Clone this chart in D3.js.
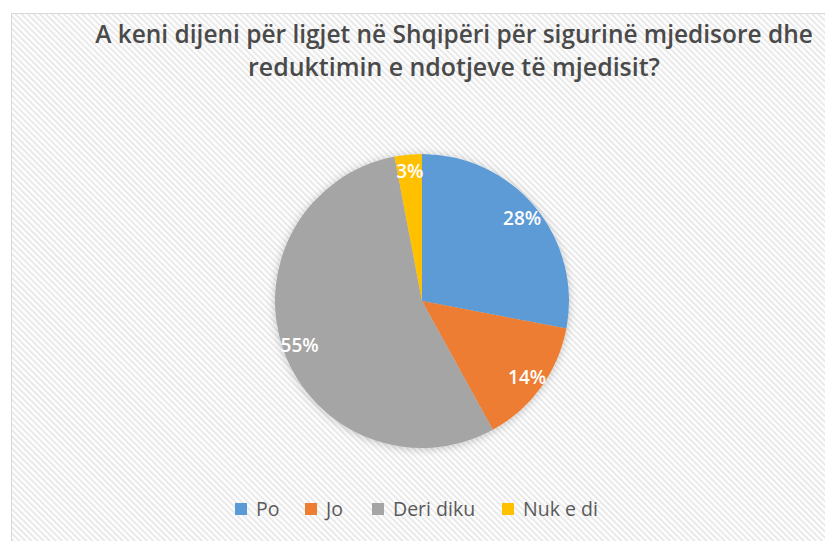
<!DOCTYPE html>
<html>
<head>
<meta charset="utf-8">
<script src="https://cdn.jsdelivr.net/npm/d3@7/dist/d3.min.js"></script>
<style>
  html, body { margin: 0; padding: 0; background: #fff; }
  svg { display: block; }
</style>
</head>
<body>
<div id="chart"></div>
<script>
// chart data
const categories = ["Po", "Jo", "Deri diku", "Nuk e di"];
const values = [28, 14, 55, 3];
const colors = ["#5B9BD5", "#ED7D31", "#A5A5A5", "#FFC000"];
const titleLines = [
  "A keni dijeni për ligjet në Shqipëri për sigurinë mjedisore dhe",
  "reduktimin e ndotjeve të mjedisit?"
];

const width = 825, height = 541;
const cx = 422, cy = 301, radius = 147, labelRadius = 130;

let svg = d3.select("#chart").append("svg")
    .attr("width", width)
    .attr("height", height);

let defs = svg.append("defs");

// diagonal hatching of the chart area
let pattern = defs.append("pattern")
    .attr("id", "hatch")
    .attr("patternUnits", "userSpaceOnUse")
    .attr("width", 4.3)
    .attr("height", 4.3)
    .attr("patternTransform", "rotate(-45)");
pattern.append("rect")
    .attr("width", 4.3).attr("height", 4.3)
    .attr("fill", "#ffffff");
pattern.append("rect")
    .attr("width", 2).attr("height", 4.3)
    .attr("fill", "#e9e9e9");

let shadow = defs.append("filter")
    .attr("id", "pieShadow")
    .attr("x", "-20%").attr("y", "-20%")
    .attr("width", "140%").attr("height", "140%");
shadow.append("feDropShadow")
    .attr("dx", 0).attr("dy", 1)
    .attr("stdDeviation", 4)
    .attr("flood-color", "#000")
    .attr("flood-opacity", 0.22);

svg.append("rect")
    .attr("x", 11.5).attr("y", 13.5)
    .attr("width", width)
    .attr("height", height)
    .attr("fill", "url(#hatch)")
    .attr("stroke", "#d9d9d9")
    .attr("stroke-width", 1);

// title - squeezed horizontally to match the narrow original font
let titleWidths = [718, 412];
let titleCenter = 454;
titleLines.forEach(function(line, i) {
    let t = svg.append("text")
        .attr("x", 0)
        .attr("y", 0)
        .attr("text-anchor", "middle")
        .style("font-family", "'Open Sans', sans-serif")
        .style("font-weight", "600")
        .style("font-size", "25px")
        .attr("fill", "#4a4a4a")
        .text(line);
    let natural = t.node().getComputedTextLength();
    let sx = titleWidths[i] / natural;
    t.attr("transform", "translate(" + titleCenter + "," + (43 + i * 33) + ") scale(" + sx + ",1)");
});

// pie
let pie = d3.pie().sort(null).value(function(d) { return d; });
let arcs = pie(values);
let arc = d3.arc().innerRadius(0).outerRadius(radius);
let labelArc = d3.arc().innerRadius(labelRadius).outerRadius(labelRadius);

let g = svg.append("g")
    .attr("transform", "translate(" + cx + "," + cy + ")");

g.append("g")
    .attr("filter", "url(#pieShadow)")
  .selectAll("path")
    .data(arcs)
  .enter().append("path")
    .attr("d", arc)
    .attr("fill", function(d, i) { return colors[i]; });

g.selectAll(".label")
    .data(arcs)
  .enter().append("text")
    .attr("class", "label")
    .attr("transform", function(d) { return "translate(" + labelArc.centroid(d) + ")"; })
    .attr("dy", "0.35em")
    .attr("text-anchor", "middle")
    .style("font-family", "'Open Sans', sans-serif")
    .style("font-weight", "600")
    .style("font-size", "19px")
    .attr("fill", "#ffffff")
    .text(function(d) { return d.data + "%"; });

// legend
let legendX = [235, 305, 372, 502];
let legend = svg.append("g")
    .style("font-family", "'Open Sans', sans-serif")
    .style("font-size", "19.5px");
let item = legend.selectAll("g")
    .data(categories)
  .enter().append("g")
    .attr("transform", function(d, i) { return "translate(" + legendX[i] + ",509)"; });
item.append("rect")
    .attr("x", 0).attr("y", -6)
    .attr("width", 12).attr("height", 12)
    .attr("fill", function(d, i) { return colors[i]; });
item.append("text")
    .attr("x", 21)
    .attr("dy", "0.35em")
    .attr("fill", "#595959")
    .text(function(d) { return d; });
</script>
</body>
</html>
